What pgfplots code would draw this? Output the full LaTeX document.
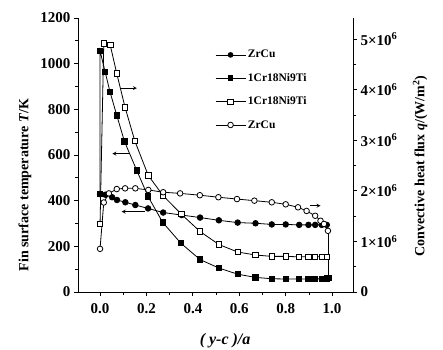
\documentclass[border=0pt]{standalone}
\usepackage{pgfplots}
\pgfplotsset{compat=1.18}
\usepackage{fontspec}
\setmainfont{Liberation Serif}
\begin{document}
\begin{tikzpicture}[x=1pt,y=1pt]
\pgfplotsset{
  common/.style={
    scale only axis, width=275pt, height=274pt,
    xmin=-0.095, xmax=1.09,
    tick style={black, line width=0.8pt},
    major tick length=4pt, minor tick length=2.5pt,
    tick align=outside,
    axis line style={line width=1pt},
    /pgf/number format/assume math mode=true,
    tick label style={font=\fontsize{15}{16}\selectfont\bfseries},
    clip=false,
  }
}
\begin{axis}[common,
  axis x line*=bottom, axis y line*=left,
  ymin=0, ymax=1200,
  xtick={0,0.2,0.4,0.6,0.8,1.0},
  minor x tick num=1,
  ytick={0,200,400,600,800,1000,1200},
  minor y tick num=1,
  xticklabel style={yshift=-4pt, /pgf/number format/fixed, /pgf/number format/fixed zerofill, /pgf/number format/precision=1},
  yticklabel style={/pgf/number format/1000 sep={}},
  xlabel={\fontsize{16}{18}\selectfont\bfseries\itshape ( y-c )/a},
  xlabel style={at={(axis description cs:0.535,-0.178)}, anchor=center},
  ylabel={\fontsize{14}{16}\selectfont\bfseries Fin surface temperature \textit{T}/K},
  ylabel style={at={(axis description cs:-0.193,0.39)}, anchor=center, rotate=0},
]
% ZrCu temperature (filled circles)
\addplot[black, line width=0.8pt, mark=*, mark size=2.8pt] coordinates {
(0,429) (0.023,426) (0.052,415) (0.073,403) (0.109,393) (0.152,381) (0.207,366)
(0.272,348) (0.352,337) (0.431,326) (0.512,314) (0.593,304) (0.670,301) (0.74,296)
(0.80,296) (0.858,294) (0.898,294) (0.927,294) (0.955,294) (0.977,294)
};
% 1Cr18Ni9Ti temperature (filled squares)
\addplot[black, line width=0.8pt, mark=square*, mark size=2.7pt] coordinates {
(0,430) (0,1056) (0.022,964) (0.043,876) (0.072,774) (0.105,660) (0.158,533) (0.207,418)
(0.270,305) (0.348,214) (0.431,142) (0.512,105) (0.593,78) (0.670,64) (0.74,58)
(0.80,57) (0.858,57) (0.898,57) (0.927,57) (0.955,58) (0.977,60) (0.985,62)
};
% closing line at the tip
\addplot[black, line width=0.8pt, no marks, forget plot] coordinates {(0.985,268) (0.985,60)};
% arrows
\draw[->, >=stealth, line width=0.8pt] (axis cs:0.086,893) -- (axis cs:0.159,893);
\draw[->, >=stealth, line width=0.8pt] (axis cs:0.128,606) -- (axis cs:0.053,606);
\draw[->, >=stealth, line width=0.8pt] (axis cs:0.194,352) -- (axis cs:0.093,352);
\draw[->, >=stealth, line width=0.8pt] (axis cs:0.905,378) -- (axis cs:0.950,378);
\end{axis}
\begin{axis}[common,
  axis y line*=right, hide x axis,
  ymin=0, ymax=5.415e6,
  scaled y ticks=false,
  ytick={0,1e6,2e6,3e6,4e6,5e6},
  yticklabels={0,1{\texttimes}10\textsuperscript{6},2{\texttimes}10\textsuperscript{6},3{\texttimes}10\textsuperscript{6},4{\texttimes}10\textsuperscript{6},5{\texttimes}10\textsuperscript{6}},
  minor y tick num=1,
  ylabel={\fontsize{14}{16}\selectfont\bfseries Convective heat flux \textit{q}/(W/m\textsuperscript{2})},
  ylabel style={at={(axis description cs:1.244,0.46)}, anchor=center},
  legend style={draw=none, fill=none, at={(axis description cs:0.498,0.89)}, anchor=north west,
    font=\fontsize{11.5}{13}\selectfont\bfseries, row sep=10pt, inner sep=0pt},
  legend cell align=left,
  legend image code/.code={\draw[mark repeat=2,mark phase=2] plot coordinates {(0pt,0pt) (15pt,0pt) (30pt,0pt)};},
]
\addlegendimage{black, line width=0.8pt, mark=*, mark size=2.4pt}
\addlegendentry{ZrCu}
\addlegendimage{black, line width=0.8pt, mark=square*, mark size=2.3pt}
\addlegendentry{1Cr18Ni9Ti}
% 1Cr18Ni9Ti heat flux (open squares)
\addplot[black, line width=0.8pt, mark=square*, mark size=2.7pt, mark options={fill=white}] coordinates {
(0,1.345e6) (0.016,4.914e6) (0.044,4.878e6) (0.072,4.318e6) (0.108,3.646e6) (0.150,2.983e6)
(0.208,2.301e6) (0.272,1.904e6) (0.350,1.539e6) (0.431,1.195e6) (0.512,0.939e6) (0.593,0.790e6)
(0.670,0.731e6) (0.74,0.704e6) (0.80,0.704e6) (0.858,0.695e6) (0.898,0.695e6) (0.927,0.695e6)
(0.955,0.695e6) (0.977,0.695e6)
};
\addlegendentry{1Cr18Ni9Ti}
% ZrCu heat flux (open circles)
\addplot[black, line width=0.8pt, mark=*, mark size=2.8pt, mark options={fill=white}] coordinates {
(0,0.853e6) (0.016,1.769e6) (0.038,1.949e6) (0.072,2.035e6) (0.108,2.049e6) (0.152,2.049e6)
(0.208,2.017e6) (0.272,1.972e6) (0.345,1.949e6) (0.430,1.913e6) (0.510,1.873e6) (0.590,1.837e6)
(0.665,1.805e6) (0.74,1.773e6) (0.80,1.733e6) (0.853,1.674e6) (0.890,1.602e6) (0.927,1.507e6)
(0.950,1.408e6) (0.965,1.345e6) (0.982,1.209e6)
};
\addlegendentry{ZrCu}
\end{axis}
\pgfresetboundingbox
\path[use as bounding box] (-78pt,-57pt) rectangle (365pt,292pt);
\end{tikzpicture}
\end{document}
